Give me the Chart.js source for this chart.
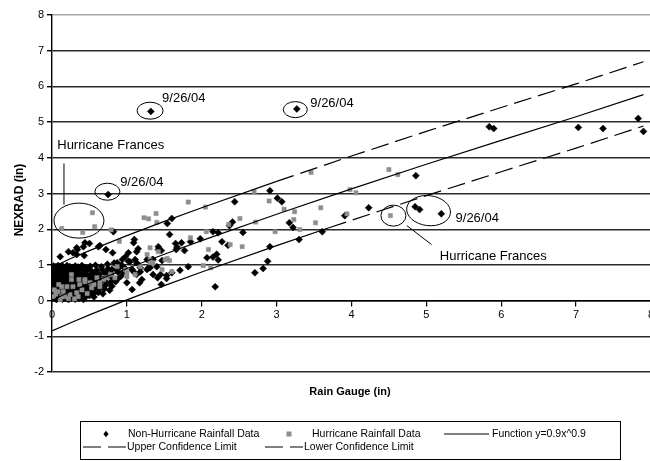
<!DOCTYPE html>
<html>
<head>
<meta charset="utf-8">
<script src="https://cdn.jsdelivr.net/npm/chart.js@4.4.1/dist/chart.umd.min.js"></script>
<style>
  html, body { margin: 0; background: #fff; overflow: hidden; width: 650px; height: 461px; }
  canvas { display: block; }
</style>
</head>
<body>
<canvas id="chart0" width="657" height="461"></canvas>
<script>
// values
const xTickValues = [0, 1, 2, 3, 4, 5, 6, 7, 8];
const yTickValues = [-2, -1, 0, 1, 2, 3, 4, 5, 6, 7, 8];

const seriesLabels = ['Non-Hurricane Rainfall Data', 'Hurricane Rainfall Data', 'Function y=0.9x^0.9',
  'Upper Confidence Limit', 'Lower Confidence Limit'];

// black diamonds
const nonHurricane = [
  // dense cluster near the origin
  [0.02,0.97],[0.05,0.95],[0.08,0.98],[0.11,0.94],[0.14,0.97],[0.17,0.93],[0.2,0.98],[0.24,0.95],[0.28,0.92],[0.31,0.97],
  [0.35,0.94],[0.4,0.98],[0.45,0.93],[0.51,0.96],[0.58,0.99],[0.66,0.95],[0.74,1.02],[0.83,1.05],[0.93,1.0],[1.02,1.1],
  [0.03,0.86],[0.06,0.83],[0.1,0.88],[0.13,0.84],[0.16,0.87],[0.19,0.82],[0.23,0.86],[0.27,0.83],[0.3,0.88],[0.34,0.81],
  [0.38,0.86],[0.43,0.84],[0.48,0.88],[0.53,0.82],[0.6,0.86],[0.68,0.84],[0.75,0.89],[0.86,0.87],[0.97,0.91],
  [0.02,0.76],[0.05,0.73],[0.09,0.77],[0.12,0.72],[0.15,0.75],[0.18,0.71],[0.22,0.77],[0.25,0.73],[0.29,0.76],[0.33,0.72],
  [0.37,0.77],[0.41,0.73],[0.46,0.75],[0.52,0.71],[0.57,0.76],[0.63,0.73],[0.7,0.78],[0.79,0.75],[0.88,0.8],[1.08,0.83],
  [0.03,0.66],[0.07,0.63],[0.1,0.67],[0.14,0.62],[0.17,0.66],[0.21,0.63],[0.24,0.67],[0.28,0.62],[0.32,0.65],[0.36,0.61],
  [0.4,0.66],[0.45,0.63],[0.5,0.67],[0.55,0.62],[0.61,0.65],[0.67,0.6],[0.73,0.66],[0.81,0.62],[0.92,0.68],
  [0.02,0.56],[0.05,0.53],[0.08,0.57],[0.12,0.52],[0.15,0.55],[0.19,0.51],[0.22,0.56],[0.26,0.53],[0.3,0.57],[0.34,0.52],
  [0.38,0.55],[0.42,0.51],[0.47,0.56],[0.53,0.53],[0.58,0.57],[0.64,0.52],[0.71,0.55],[0.78,0.5],[0.85,0.53],
  [0.03,0.46],[0.06,0.43],[0.1,0.47],[0.13,0.42],[0.17,0.45],[0.2,0.41],[0.24,0.46],[0.28,0.43],[0.31,0.47],[0.35,0.42],
  [0.39,0.45],[0.44,0.41],[0.49,0.46],[0.55,0.43],[0.6,0.47],[0.66,0.42],[0.72,0.44],[0.8,0.4],
  [0.02,0.36],[0.05,0.33],[0.09,0.37],[0.12,0.32],[0.16,0.35],[0.19,0.31],[0.23,0.36],[0.27,0.33],[0.3,0.37],[0.34,0.32],
  [0.38,0.35],[0.42,0.31],[0.47,0.34],[0.52,0.3],[0.58,0.35],[0.63,0.31],[0.7,0.33],[0.77,0.29],
  [0.03,0.26],[0.06,0.23],[0.1,0.27],[0.13,0.22],[0.17,0.25],[0.21,0.21],[0.25,0.26],[0.29,0.23],[0.33,0.27],[0.37,0.22],
  [0.41,0.25],[0.46,0.21],[0.51,0.24],[0.56,0.2],[0.62,0.23],[0.68,0.19],
  [0.02,0.16],[0.05,0.13],[0.08,0.17],[0.12,0.12],[0.15,0.15],[0.19,0.11],[0.23,0.16],[0.27,0.13],[0.31,0.17],[0.35,0.12],
  [0.4,0.15],[0.45,0.11],[0.5,0.14],[0.56,0.1],
  [0.03,0.06],[0.06,0.03],[0.1,0.07],[0.14,0.04],[0.18,0.06],[0.22,0.03],[0.26,0.07],[0.31,0.04],[0.36,0.06],[0.42,0.03],
  // band above the cluster
  [0.87,1.06],[0.94,1.15],[0.98,1.23],[1.04,1.09],[1.11,1.15],[0.8,0.87],[0.91,0.95],[0.73,0.78],[0.95,0.78],[1.07,0.87],
  [0.87,0.59],[1.0,0.5],[1.13,0.73],[1.18,0.81],[1.27,0.87],[1.35,0.73],[1.4,0.95],
  [0.11,1.23],[0.22,1.37],[0.33,1.48],[0.34,1.43],[0.44,1.62],[0.5,1.6],[0.62,1.51],[0.28,1.34],[0.42,1.51],[0.33,1.29],
  [0.43,1.26],[0.64,1.54],[0.72,1.43],[0.81,1.34],[1.02,1.34],[1.42,1.51],[0.82,1.93],
  [1.07,0.31],[1.17,0.5],[1.2,0.59],[1.34,1.15],[1.27,1.15],[1.29,0.92],[1.13,1.06],[1.18,0.92],[1.09,1.62],[1.13,1.37],
  [1.1,1.71],[1.15,1.45],[1.42,1.43],[1.46,1.4],[1.35,1.15],[1.47,1.12],[1.31,0.92],
  // scattered points
  [1.6,2.3],[1.54,2.16],[1.57,1.85],[1.82,0.95],[1.71,0.85],[1.6,0.78],[1.53,0.7],[1.41,0.64],[1.45,0.73],[1.53,0.62],[1.46,0.45],
  [1.98,1.73],[1.85,1.65],[1.73,1.62],[1.65,1.6],[1.67,1.5],[1.77,1.4],[1.66,1.43],
  [2.07,1.2],[2.15,1.22],[2.22,1.14],[2.2,1.3],[2.18,0.39],
  [2.44,2.77],[2.41,2.2],[2.37,2.1],[2.55,1.91],[2.27,1.65],[2.35,1.55],[2.22,1.9],[2.15,1.93],
  [2.71,0.78],[2.82,0.9],[2.88,1.1],[2.91,1.51],
  [2.91,3.08],[3.01,2.87],[3.07,2.77],[3.17,2.18],[3.22,2.05],[3.3,1.71],[3.61,1.93],
  [4.23,2.6],[3.91,2.38],[4.85,2.63],[4.91,2.55],[5.2,2.43],[4.86,3.5],
  [5.84,4.87],[5.9,4.82],[7.03,4.85],[7.36,4.82],[7.83,5.1],[7.9,4.74],
  [1.32,5.3],[3.27,5.37],[0.75,2.97]
];

// grey squares
const hurricane = [
  [0.13,0.39],[0.26,0.73],[0.28,0.39],[0.36,0.59],[0.44,0.53],[0.64,0.5],[0.73,0.64],[0.17,0.11],[0.11,0.03],[0.53,0.36],
  [0.84,0.64],[1.0,0.67],[1.18,0.95],[1.31,1.06],[0.08,0.25],[0.13,0.11],[0.2,0.39],[0.26,0.59],[0.33,0.22],[0.37,0.45],
  [0.44,0.59],[0.51,0.5],[0.6,0.64],[0.64,0.39],[0.69,0.59],[0.35,0.11],[0.24,0.17],[0.78,0.73],[0.87,0.95],[1.0,0.78],
  [0.03,0.3],[0.05,0.18],[0.09,0.45],[0.15,0.25],[0.22,0.06],[0.4,0.3],[0.47,0.2],[0.56,0.45],[0.3,0.05],[0.02,0.11],
  [1.31,1.48],[1.54,1.18],[1.51,1.15],[1.57,1.12],[1.6,0.81],[1.35,1.06],[1.47,0.87],[1.27,1.29],[1.42,1.37],[1.31,1.15],
  [1.11,0.73],[0.98,0.87],
  [0.13,2.02],[0.41,1.91],[0.54,2.46],[0.57,2.07],[0.79,1.98],[0.9,1.66],[1.23,2.32],[1.29,2.29],[1.39,2.44],[1.4,2.19],
  [1.82,2.76],[1.85,1.76],[2.05,2.62],[2.06,1.93],[2.09,1.43],[2.02,0.98],[2.12,0.92],[2.38,1.57],[2.54,1.51],[2.51,2.3],
  [2.36,2.13],[2.72,2.2],[2.7,3.05],[2.9,2.79],[2.98,1.93],[3.1,2.56],[3.24,2.49],[3.23,2.27],[3.31,1.99],[3.52,2.18],
  [3.59,2.6],[3.46,3.59],[3.98,3.11],[4.06,3.02],[4.5,3.67],[4.62,3.53],[3.94,2.43],[4.52,2.38]
];

const fitCurve = [[0,0],[0.1,0.11],[0.25,0.26],[0.5,0.48],[1,0.9],[1.5,1.3],[2,1.68],[3,2.42],[4,3.13],[5,3.82],[6,4.49],[7,5.15],[7.9,5.77]];
const upperLimit = [[0.05,0.98],[0.25,1.18],[0.5,1.4],[1,1.82],[1.5,2.22],[2,2.6],[3,3.34],[4,4.05],[5,4.74],[6,5.41],[7,6.07],[7.9,6.69]];
const lowerLimit = [[0,-0.85],[0.25,-0.62],[0.5,-0.4],[1,0.02],[1.5,0.42],[2,0.8],[3,1.54],[3.7,2.04],[4,2.25],[5,2.94],[6,3.61],[7,4.27],[7.9,4.89]];

// annotation marks, placed in data units
const ellipses = [
  {x: 1.31, y: 5.32, rx: 13, ry: 8.5},
  {x: 3.25, y: 5.35, rx: 12, ry: 8},
  {x: 0.74, y: 3.05, rx: 12.5, ry: 8.5},
  {x: 0.36, y: 2.24, rx: 25, ry: 17.5},
  {x: 4.56, y: 2.38, rx: 12.5, ry: 10.5},
  {x: 5.03, y: 2.52, rx: 22, ry: 15, rot: 0.12}
];
const noteTexts = [
  {text: '9/26/04', x: 1.47, y: 5.66},
  {text: '9/26/04', x: 3.45, y: 5.52},
  {text: '9/26/04', x: 0.91, y: 3.31},
  {text: '9/26/04', x: 5.39, y: 2.3},
  {text: 'Hurricane Frances', x: 0.07, y: 4.34},
  {text: 'Hurricane Frances', x: 5.18, y: 1.23}
];
const leaders = [
  [[0.16, 3.84], [0.16, 2.69]],
  [[4.74, 2.1], [5.07, 1.57]]
];

const dash = [18, 7];
const fontName = '"Liberation Sans", Arial, sans-serif';

function diamond(ctx, x, y, r) {
  ctx.beginPath();
  ctx.moveTo(x, y - r); ctx.lineTo(x + r * 0.8, y); ctx.lineTo(x, y + r); ctx.lineTo(x - r * 0.8, y);
  ctx.closePath(); ctx.fill();
}

const notesPlugin = {
  id: 'notes',
  afterDatasetsDraw(chart) {
    const {ctx, scales: {x, y}} = chart;
    ctx.save();
    ctx.strokeStyle = '#000';
    ctx.lineWidth = 1;
    ellipses.forEach(e => {
      ctx.beginPath();
      ctx.ellipse(x.getPixelForValue(e.x), y.getPixelForValue(e.y), e.rx, e.ry, e.rot || 0, 0, Math.PI * 2);
      ctx.stroke();
    });
    leaders.forEach(l => {
      ctx.beginPath();
      ctx.moveTo(x.getPixelForValue(l[0][0]), y.getPixelForValue(l[0][1]));
      ctx.lineTo(x.getPixelForValue(l[1][0]), y.getPixelForValue(l[1][1]));
      ctx.stroke();
    });
    ctx.fillStyle = '#000';
    ctx.font = '13px ' + fontName;
    ctx.textBaseline = 'middle';
    ctx.textAlign = 'left';
    noteTexts.forEach(t => ctx.fillText(t.text, x.getPixelForValue(t.x), y.getPixelForValue(t.y)));
    ctx.restore();
  },
  afterDraw(chart) {
    const ctx = chart.ctx;
    const ds = chart.data.datasets;
    ctx.save();
    // axis titles
    ctx.fillStyle = '#000';
    ctx.font = 'bold 11px ' + fontName;
    ctx.textAlign = 'center';
    ctx.textBaseline = 'middle';
    ctx.fillText('Rain Gauge (in)', 350, 392);
    ctx.translate(20, 200);
    ctx.rotate(-Math.PI / 2);
    ctx.font = 'bold 12px ' + fontName;
    ctx.fillText('NEXRAD (in)', 0, 0);
    ctx.setTransform(1, 0, 0, 1, 0, 0);

    // legend box
    ctx.strokeStyle = '#000';
    ctx.lineWidth = 1;
    ctx.strokeRect(80.5, 421.5, 540, 38);
    ctx.font = '10.5px ' + fontName;
    ctx.textAlign = 'left';
    const r1 = 434, r2 = 447;
    ctx.fillStyle = '#000';
    diamond(ctx, 106, r1, 3.3);
    ctx.fillStyle = ds[1].backgroundColor;
    ctx.fillRect(286.5, r1 - 2.5, 5, 5);
    ctx.beginPath();
    ctx.moveTo(444, r1); ctx.lineTo(489, r1);
    ctx.stroke();
    ctx.setLineDash(dash);
    ctx.beginPath();
    ctx.moveTo(83, r2); ctx.lineTo(126, r2);
    ctx.moveTo(265, r2); ctx.lineTo(303, r2);
    ctx.stroke();
    ctx.setLineDash([]);
    ctx.fillStyle = '#000';
    ctx.fillText(ds[0].label, 128, r1);
    ctx.fillText(ds[1].label, 312, r1);
    ctx.fillText(ds[2].label, 492, r1);
    ctx.fillText(ds[3].label, 127, r2);
    ctx.fillText(ds[4].label, 304, r2);
    ctx.restore();
  }
};

const toPts = arr => arr.map(p => ({x: p[0], y: p[1]}));

function lineSet(label, pts, dashFrom) {
  return {
    type: 'line',
    label: label,
    data: toPts(pts),
    borderColor: '#000',
    borderWidth: 1.2,
    pointRadius: 0,
    fill: false,
    tension: 0,
    order: 0,
    segment: dashFrom === undefined ? undefined : {
      borderDash: c => c.p0.parsed.x >= dashFrom ? dash : undefined
    }
  };
}

const chart0 = document.getElementById('chart0');
const myChart0 = new Chart(chart0, {
  type: 'scatter',
  data: {
    datasets: [
      {
        label: seriesLabels[0],
        data: toPts(nonHurricane),
        pointStyle: 'rectRot',
        pointRadius: 3.5,
        pointBorderWidth: 0.5,
        backgroundColor: '#000',
        borderColor: '#000',
        order: 2
      },
      {
        label: seriesLabels[1],
        data: toPts(hurricane),
        pointStyle: 'rect',
        pointRadius: 3,
        pointBorderWidth: 0.5,
        backgroundColor: '#8e8e8e',
        borderColor: '#8e8e8e',
        order: 1
      },
      lineSet(seriesLabels[2], fitCurve),
      lineSet(seriesLabels[3], upperLimit, 3.0),
      lineSet(seriesLabels[4], lowerLimit, 3.7)
    ]
  },
  options: {
    responsive: false,
    animation: false,
    events: [],
    layout: { padding: { top: 15, right: 0, bottom: 89, left: 0 } },
    plugins: {
      legend: { display: false },
      tooltip: { enabled: false }
    },
    scales: {
      x: {
        type: 'linear',
        min: 0,
        max: 8,
        position: { y: 0 },
        afterBuildTicks: s => { s.ticks = xTickValues.map(v => ({value: v})); },
        grid: { drawOnChartArea: false, drawTicks: true, tickLength: 5, color: '#000', lineWidth: 1.2 },
        border: { color: '#000', width: 1.4 },
        ticks: { color: '#000', padding: 3, maxRotation: 0, font: { family: fontName, size: 11 } }
      },
      y: {
        type: 'linear',
        min: -2,
        max: 8,
        afterBuildTicks: s => { s.ticks = yTickValues.map(v => ({value: v})); },
        afterFit: s => { s.width = 52; },
        grid: {
          color: c => c.tick && c.tick.value === 8 ? '#a8a8a8' : '#2a2a2a',
          tickColor: '#000',
          lineWidth: 1.4,
          tickLength: 5
        },
        border: { color: '#000', width: 1.4 },
        ticks: { color: '#000', padding: 3, font: { family: fontName, size: 11 } }
      }
    }
  },
  plugins: [notesPlugin]
});
</script>
</body>
</html>
